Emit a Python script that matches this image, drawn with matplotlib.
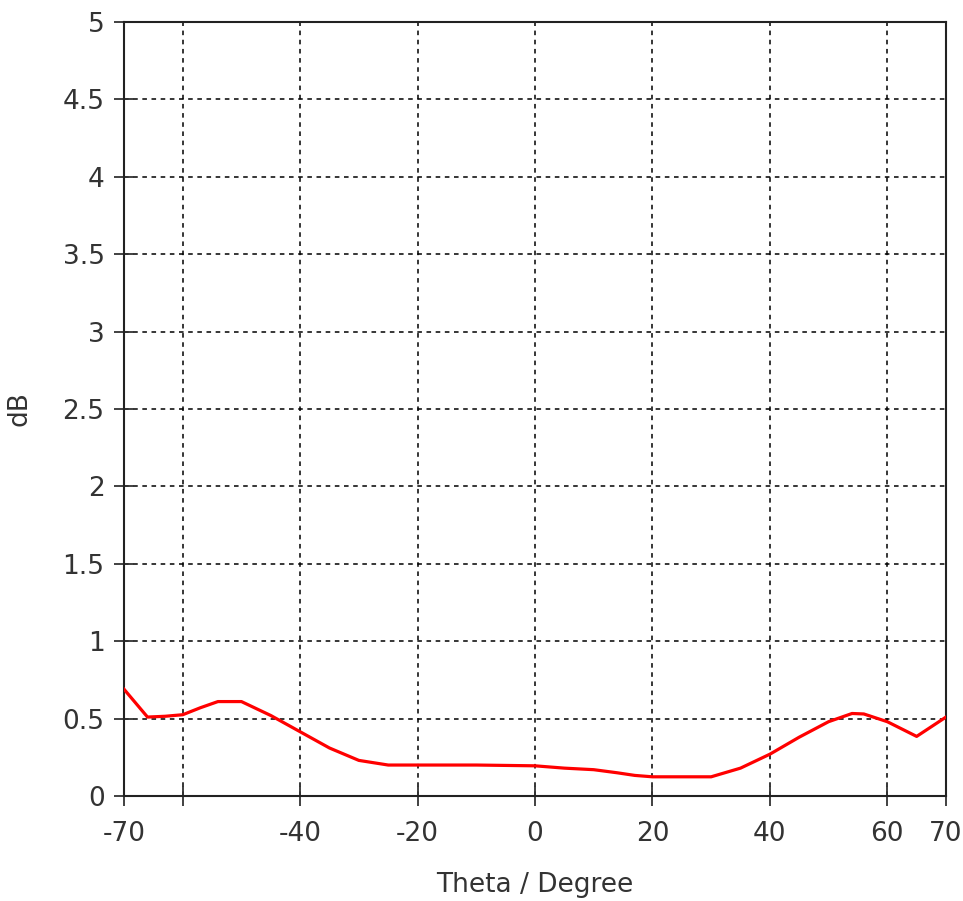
import matplotlib
matplotlib.use("Agg")
import matplotlib.pyplot as plt

theta = [-70, -68, -66, -63, -60, -57, -54, -50, -45, -40, -35, -30, -25, -20, -10, 0,
         5, 10, 14, 17, 20, 25, 30, 35, 40, 45, 50, 54, 56, 60, 65, 70]
db = [0.69, 0.60, 0.51, 0.515, 0.525, 0.57, 0.61, 0.61, 0.52, 0.415, 0.31, 0.23, 0.20, 0.20, 0.20, 0.195,
      0.18, 0.17, 0.15, 0.133, 0.124, 0.124, 0.124, 0.18, 0.27, 0.38, 0.48, 0.533, 0.53, 0.48, 0.385, 0.51]

xticks = [-70, -60, -40, -20, 0, 20, 40, 60, 70]
xticklabels = ["-70", "", "-40", "-20", "0", "20", "40", "60", "70"]
yticks = [0, 0.5, 1, 1.5, 2, 2.5, 3, 3.5, 4, 4.5, 5]
yticklabels = ["0", "0.5", "1", "1.5", "2", "2.5", "3", "3.5", "4", "4.5", "5"]

plt.rcParams['font.family'] = ['DejaVu Sans']
fig = plt.figure(figsize=(9.63, 9.01), dpi=100)
ax = fig.add_axes([124/963, 1-796/901, (946-124)/963, (796-22)/901])

ax.plot(theta, db, color='#ff0000', lw=2.3, zorder=3)
ax.set_xlim(-70, 70)
ax.set_ylim(0, 5)
ax.set_xticks(xticks)
ax.set_xticklabels(xticklabels)
ax.set_yticks(yticks)
ax.set_yticklabels(yticklabels)
ax.tick_params(direction='inout', length=14, width=1.3, labelsize=19, colors='#333333', pad=7)
ax.tick_params(axis='x', pad=11)
ax.grid(True, color='black', linestyle=(0, (3, 3)), linewidth=1.1)
for s in ax.spines.values():
    s.set_linewidth(1.5)
    s.set_color('#222222')
ax.set_xlabel('Theta / Degree', fontsize=19, color='#333333', labelpad=18)
ax.set_ylabel('dB', fontsize=19, color='#333333', labelpad=22)
fig.savefig('out.png', dpi=100)
